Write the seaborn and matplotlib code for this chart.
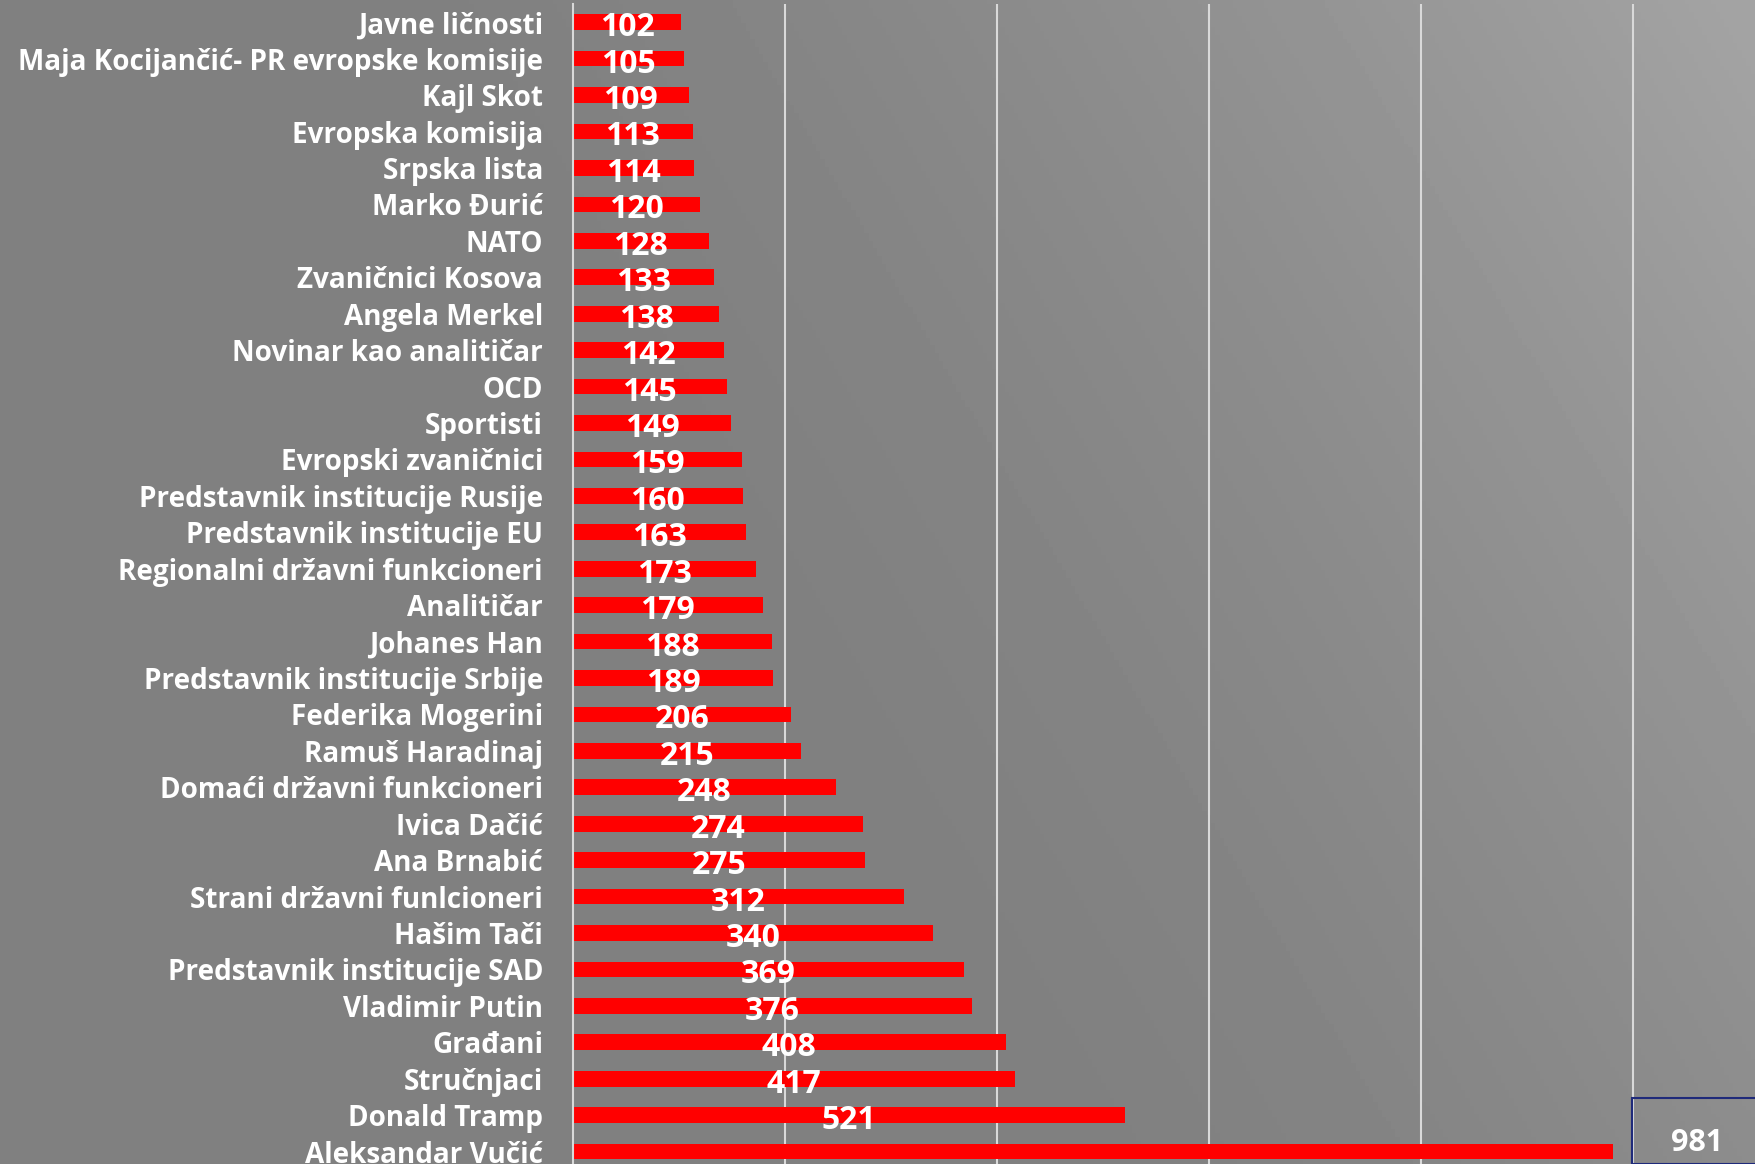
import numpy as np
import pandas as pd
import seaborn as sns
import matplotlib.pyplot as plt
from matplotlib.patches import Rectangle

categories = [
    "Javne ličnosti", "Maja Kocijančić- PR evropske komisije", "Kajl Skot",
    "Evropska komisija", "Srpska lista", "Marko Đurić", "NATO",
    "Zvaničnici Kosova", "Angela Merkel", "Novinar kao analitičar", "OCD",
    "Sportisti", "Evropski zvaničnici", "Predstavnik institucije Rusije",
    "Predstavnik institucije EU", "Regionalni državni funkcioneri",
    "Analitičar", "Johanes Han", "Predstavnik institucije Srbije",
    "Federika Mogerini", "Ramuš Haradinaj", "Domaći državni funkcioneri",
    "Ivica Dačić", "Ana Brnabić", "Strani državni funlcioneri", "Hašim Tači",
    "Predstavnik institucije SAD", "Vladimir Putin", "Građani", "Stručnjaci",
    "Donald Tramp", "Aleksandar Vučić",
]
values = [102, 105, 109, 113, 114, 120, 128, 133, 138, 142, 145, 149, 159,
          160, 163, 173, 179, 188, 189, 206, 215, 248, 274, 275, 312, 340,
          369, 376, 408, 417, 521, 981]

sns.set_style("white")
plt.rcParams["font.family"] = ["Open Sans", "DejaVu Sans"]

df = pd.DataFrame({"label": categories, "count": values})

fig = plt.figure(figsize=(17.55, 11.64), dpi=100)

# gray gradient background, lighter towards the top right
bg = fig.add_axes([0, 0, 1, 1], zorder=-10)
xx, yy = np.meshgrid(np.linspace(0, 1, 400), np.linspace(1, 0, 300))
s = np.clip((xx * 0.9 + yy * 0.35 - 0.55) / 0.7, 0, 1) ** 1.5
shade = (128 + 36 * s) / 255
bg.imshow(shade, cmap="gray", vmin=0, vmax=1, aspect="auto", extent=[0, 1, 0, 1])
bg.axis("off")

ax = fig.add_axes([573 / 1755, 0, 1 - 573 / 1755, 1 - 4 / 1164])
ax.set_facecolor("none")
sns.barplot(data=df, y="label", x="count", orient="h", color="#ff0000",
            width=0.43, saturation=1, linewidth=0, ax=ax)

ax.set_xlim(0, 1115)
ax.set_ylim(31.34, -0.5)
ax.set_xticks([200, 400, 600, 800, 1000])
ax.set_xticklabels([])
ax.grid(axis="x", color="#d9d9d9", linewidth=1.5)
ax.grid(axis="y", visible=False)
ax.set_axisbelow(True)
for side in ["top", "right", "bottom"]:
    ax.spines[side].set_visible(False)
ax.spines["left"].set_color("#d9d9d9")
ax.spines["left"].set_linewidth(1.5)
ax.set_xlabel("")
ax.set_ylabel("")
ax.tick_params(axis="x", length=0)

# size the category labels so the longest one spans ~526 px
renderer = fig.canvas.get_renderer()
probe = fig.text(0, 0, max(categories, key=len), fontsize=20, fontweight="bold")
w = probe.get_window_extent(renderer).width
probe.remove()
label_size = 20 * 526 / w
ax.tick_params(axis="y", length=0, pad=30 * 72 / 100, labelsize=label_size,
               labelcolor="white")
for t in ax.get_yticklabels():
    t.set_fontweight("bold")

for i, v in enumerate(values[:-1]):
    ax.text(v / 2, i + 0.15, str(v), ha="center", va="center", color="white",
            fontsize=23, fontweight="bold")

# last value sits in a framed box at the right edge
fig.patches.append(Rectangle((1632 / 1755, 0), 0.2, (1164 - 1098) / 1164,
                             transform=fig.transFigure, fill=False,
                             edgecolor="#1f2a7a", linewidth=1.5))
fig.text(1697 / 1755, 1 - 1143 / 1164, str(values[-1]), ha="center", va="center",
         color="white", fontsize=22, fontweight="bold")

plt.savefig("out.png", dpi=100)
